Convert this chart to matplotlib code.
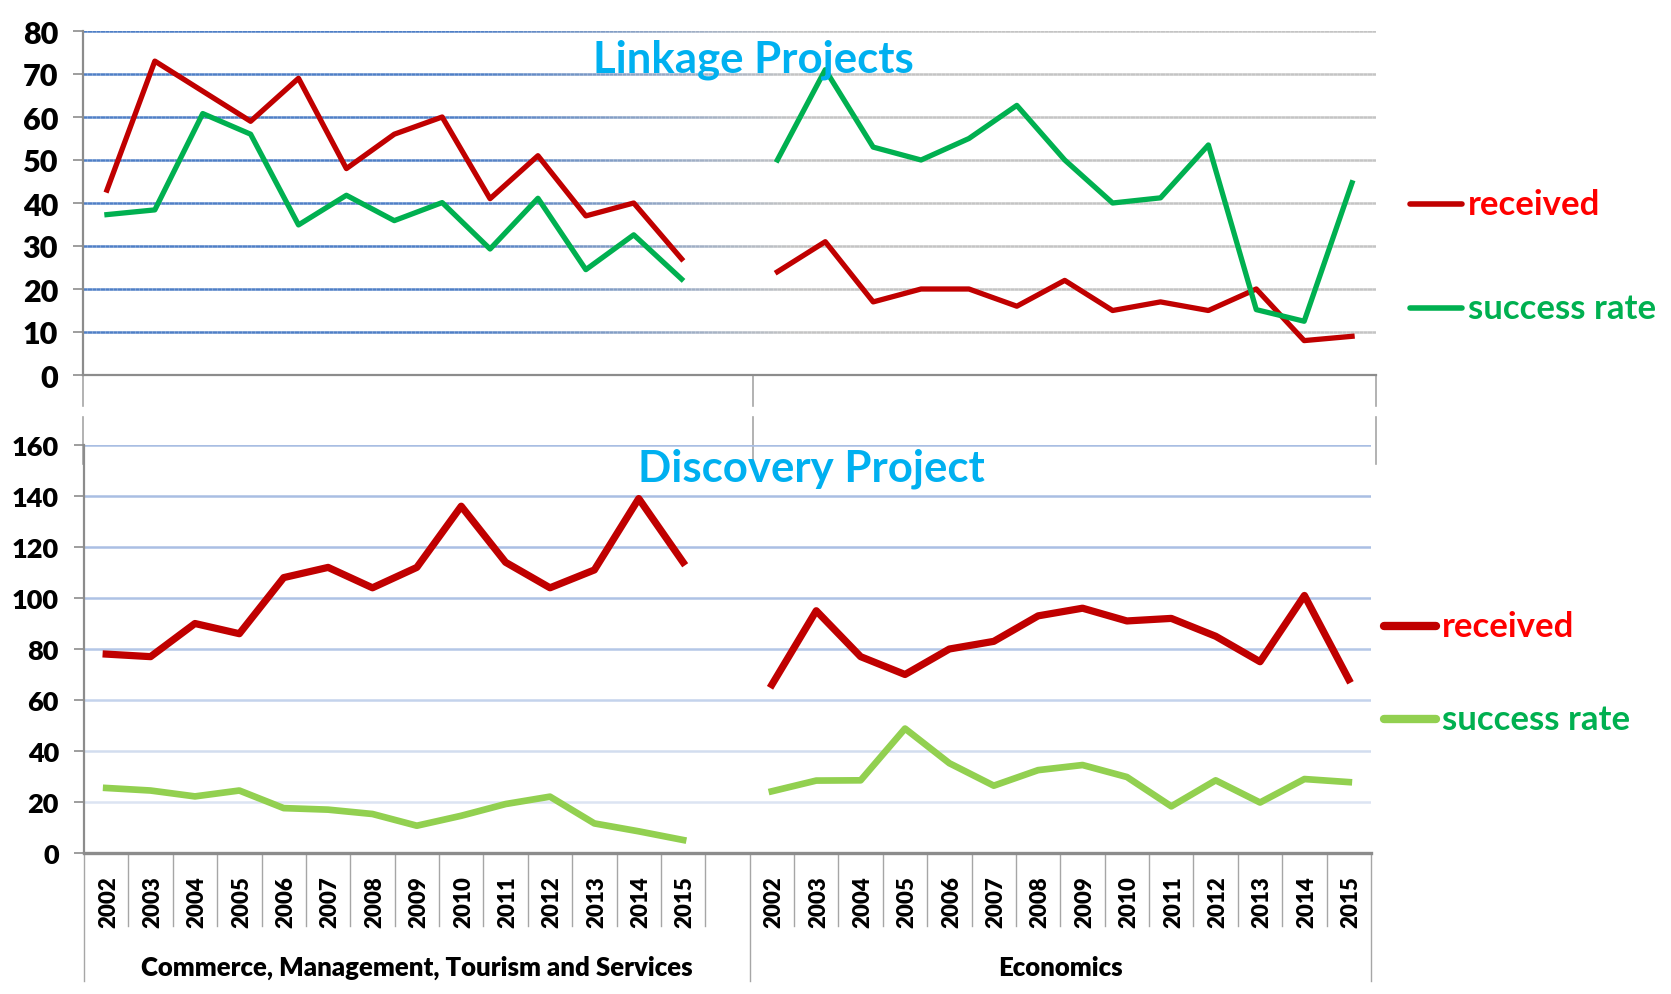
import numpy as np
import matplotlib
matplotlib.use("Agg")
import matplotlib.pyplot as plt
from matplotlib.collections import LineCollection
from matplotlib.colors import to_rgb

plt.rcParams['font.family'] = ['Lato', 'DejaVu Sans']

# ---------------- data ----------------
groups = ["Commerce, Management, Tourism and Services", "Economics"]
years = [str(y) for y in range(2002, 2016)]

# Linkage Projects (13 points per group; x labels hidden in the source image)
lp_comm_received = [43, 73, 66, 59, 69, 48, 56, 60, 41, 51, 37, 40, 27]
lp_comm_success = [37.3, 38.4, 60.8, 56.0, 34.9, 41.8, 35.9, 40.1, 29.3, 41.1, 24.5, 32.6, 22.3]
lp_econ_received = [24, 31, 17, 20, 20, 16, 22, 15, 17, 15, 20, 8, 9]
lp_econ_success = [50, 71, 53, 50, 55, 62.7, 50, 40, 41.2, 53.5, 15.2, 12.5, 44.7]

# Discovery Project (2002-2015)
dp_comm_received = [78, 77, 90, 86, 108, 112, 104, 112, 136, 114, 104, 111, 139, 114]
dp_comm_success = [25.5, 24.5, 22.2, 24.5, 17.6, 17.0, 15.3, 10.7, 14.6, 19.2, 22.1, 11.6, 8.5, 5.1]
dp_econ_received = [66, 95, 77, 70, 80, 83, 93, 96, 91, 92, 85, 75, 101, 68]
dp_econ_success = [24.2, 28.4, 28.5, 48.8, 35.2, 26.4, 32.5, 34.5, 29.8, 18.3, 28.5, 19.8, 29.0, 27.8]

series_labels = ["received", "success rate"]

# ---------------- styling ----------------
W, H = 1671, 995
RED = "#C00000"
RED_TXT = "#FF0000"
GREEN = "#00B050"
LGREEN = "#92D050"
TITLE = "#00B0F0"
AXGRAY = "#8C8C8C"
HEAVY = "heavy"

fig = plt.figure(figsize=(W / 100, H / 100), dpi=100)


def px_axes(l, t, r, b):
    return fig.add_axes([l / W, (H - b) / H, (r - l) / W, (b - t) / H])


# ---------------- top panel ----------------
ax1 = px_axes(83, 32, 1376, 376)
n1 = len(lp_comm_received)
x_comm1 = np.arange(n1)
x_econ1 = np.arange(n1) + n1 + 1
ntot1 = 2 * n1 + 1
ax1.set_xlim(-0.5, ntot1 - 0.5)
ax1.set_ylim(0, 80)

blue = np.array(to_rgb("#4F7FC6"))
gray = np.array(to_rgb("#C4C4C4"))
for yv in range(10, 81, 10):
    xs = np.linspace(-0.5, ntot1 - 0.5, 301)
    segs = [[(xs[i], yv), (xs[i + 1], yv)] for i in range(300)]
    cols = []
    for i in range(300):
        t = (i + 0.5) / 300
        f = np.clip((t - 0.3) / 0.25, 0, 1)
        cols.append(tuple(blue * (1 - f) + gray * f))
    ax1.add_collection(LineCollection(segs, colors=cols, linewidths=1.8, zorder=1))

LW1 = 3.8
ax1.plot(x_comm1, lp_comm_received, color=RED, lw=LW1, zorder=3)
ax1.plot(x_comm1, lp_comm_success, color=GREEN, lw=LW1, zorder=3)
ax1.plot(x_econ1, lp_econ_received, color=RED, lw=LW1, zorder=3)
ax1.plot(x_econ1, lp_econ_success, color=GREEN, lw=LW1, zorder=3)

for s in ["top", "right"]:
    ax1.spines[s].set_visible(False)
for s in ["left", "bottom"]:
    ax1.spines[s].set_color(AXGRAY)
    ax1.spines[s].set_linewidth(1.6)
ax1.set_yticks(range(0, 81, 10))
ax1.set_xticks([])
ax1.tick_params(axis="y", length=7, width=1.2, color=AXGRAY, labelsize=22, pad=11)
for lab in ax1.get_yticklabels():
    lab.set_fontweight(HEAVY)
ax1.set_facecolor("none")

# group separators of the (hidden) top category axis
tr1 = ax1.get_xaxis_transform()
h1 = 376 - 32
for xb in [-0.5, n1 + 0.5, ntot1 - 0.5]:
    for (a, b) in [(376, 407), (418, 465)]:
        ax1.plot([xb, xb], [-(a - 376) / h1, -(b - 376) / h1], transform=tr1,
                 color="#A6A6A6", lw=1.2, clip_on=False)

ax1.text(n1 + 0.5, 73.5, "Linkage Projects", color=TITLE, fontsize=31.5,
         fontweight="bold", ha="center", va="center", zorder=5)

# ---------------- bottom panel ----------------
ax2 = px_axes(84, 446, 1371, 854)
n2 = len(years)
x_comm2 = np.arange(n2)
x_econ2 = np.arange(n2) + n2 + 1
ntot2 = 2 * n2 + 1
ax2.set_xlim(-0.5, ntot2 - 0.5)
ax2.set_ylim(0, 160)

grid_cols = {20: "#DCE4F2", 40: "#D2DDEF", 60: "#C4D3EC", 80: "#B4C7E7",
             100: "#AEC2E5", 120: "#AABFE4", 140: "#A9BEE3", 160: "#A9BEE3"}
for yv, c in grid_cols.items():
    ax2.axhline(yv, color=c, lw=1.8, zorder=1)

ax2.plot(x_comm2, dp_comm_received, color=RED, lw=5.2, zorder=3)
ax2.plot(x_comm2, dp_comm_success, color=LGREEN, lw=4.8, zorder=3)
ax2.plot(x_econ2, dp_econ_received, color=RED, lw=5.2, zorder=3)
ax2.plot(x_econ2, dp_econ_success, color=LGREEN, lw=4.8, zorder=3)

for s in ["top", "right"]:
    ax2.spines[s].set_visible(False)
ax2.spines["left"].set_color(AXGRAY)
ax2.spines["left"].set_linewidth(1.6)
ax2.spines["bottom"].set_color(AXGRAY)
ax2.spines["bottom"].set_linewidth(2.4)
ax2.set_yticks(range(0, 161, 20))
ax2.set_xticks([])
ax2.tick_params(axis="y", length=7, width=1.2, color=AXGRAY, labelsize=19.5, pad=11)
for lab in ax2.get_yticklabels():
    lab.set_fontweight(HEAVY)
ax2.set_facecolor("none")

# multi-level category axis
tr2 = ax2.get_xaxis_transform()
h2 = 854 - 446
for i in range(ntot2 + 1):
    xb = i - 0.5
    long_ = i in (0, n2 + 1, ntot2)
    bot = 982 if long_ else 927
    ax2.plot([xb, xb], [0, -(bot - 854) / h2], transform=tr2, color="#A6A6A6",
             lw=1.0, clip_on=False)
for xs_, lab_set in [(x_comm2, years), (x_econ2, years)]:
    for xv, lab in zip(xs_, lab_set):
        ax2.text(xv + 0.05, -(902 - 854) / h2, lab, transform=tr2, rotation=90,
                 ha="center", va="center", fontsize=16, fontweight=HEAVY)
# group spans: Commerce covers its 14 years plus the blank slot, Economics its 14 years
ax2.text((-0.5 + n2 + 0.5) / 2, -(968 - 854) / h2, groups[0], transform=tr2,
         ha="center", va="center", fontsize=18.5, fontweight=HEAVY)
ax2.text((n2 + 0.5 + ntot2 - 0.5) / 2, -(968 - 854) / h2, groups[1], transform=tr2,
         ha="center", va="center", fontsize=18.5, fontweight=HEAVY)

ax2.text(15.9, 151, "Discovery Project", color=TITLE, fontsize=31.5,
         fontweight="bold", ha="center", va="center", zorder=5)

# ---------------- legends ----------------
def legend_item(x0, x1, y, lcol, lw, tcol, text, fs):
    fig.add_artist(plt.Line2D([x0 / W, x1 / W], [(H - y) / H, (H - y) / H],
                              color=lcol, lw=lw, solid_capstyle="round"))
    fig.text((x1 + 6) / W, (H - y) / H, text, color=tcol, fontsize=fs,
             fontweight="bold", ha="left", va="center")

legend_item(1410, 1462, 205, RED, 4, RED_TXT, series_labels[0], 25)
legend_item(1410, 1462, 309, GREEN, 4, GREEN, series_labels[1], 25)
legend_item(1384, 1436, 627, RED, 6, RED_TXT, series_labels[0], 25)
legend_item(1384, 1436, 720, LGREEN, 6, GREEN, series_labels[1], 25)

fig.savefig("out.png", dpi=100)
